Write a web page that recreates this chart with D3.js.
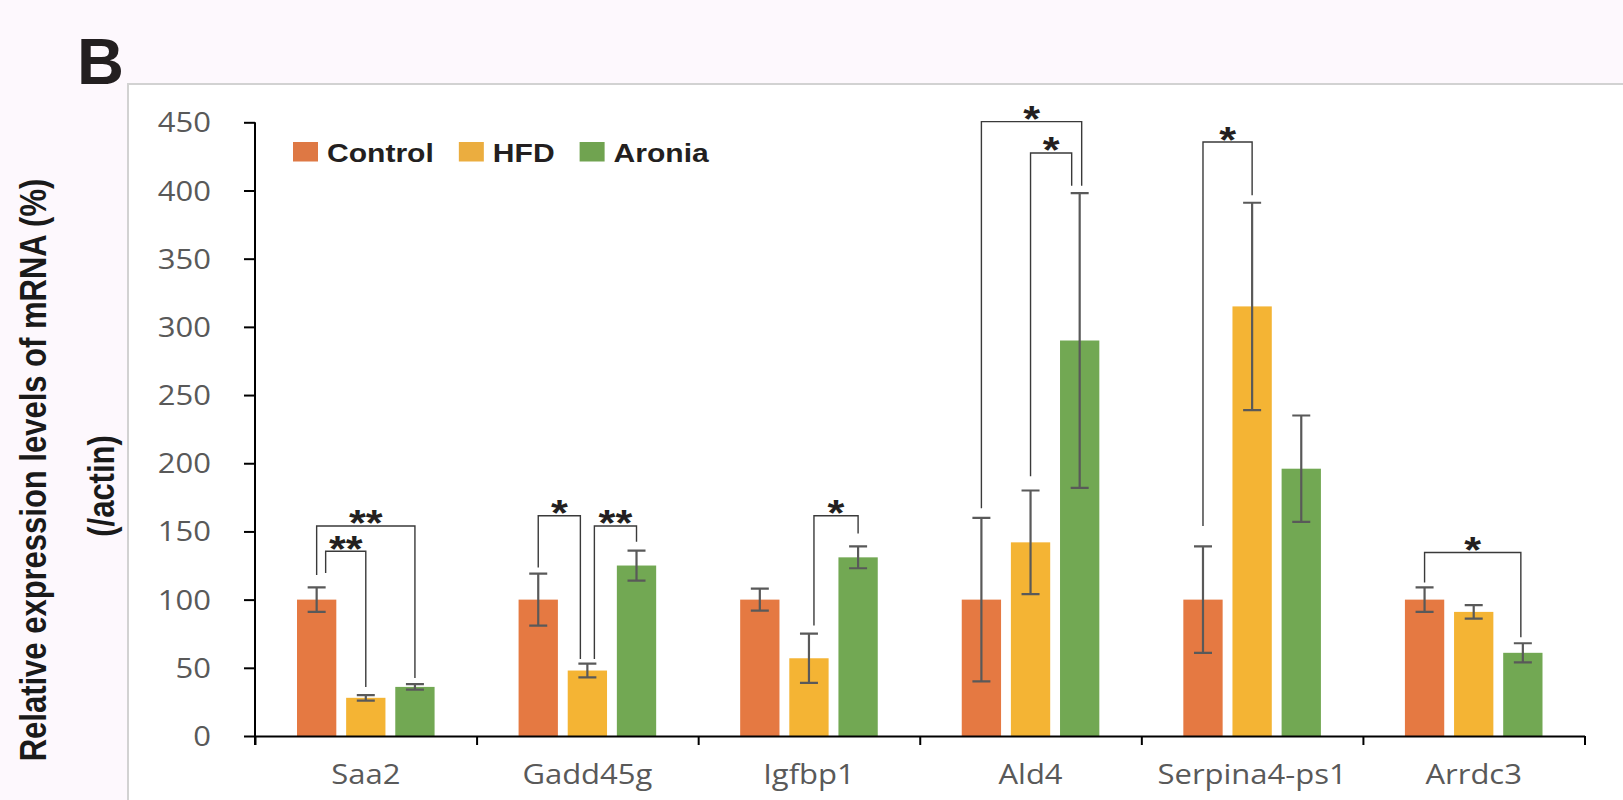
<!DOCTYPE html>
<html>
<head>
<meta charset="utf-8">
<script src="https://cdn.jsdelivr.net/npm/d3@7"></script>
<style>
  html, body { margin: 0; padding: 0; background: #fdf8fd; }
  svg { display: block; }
</style>
</head>
<body>
<svg id="chart" width="1623" height="800"></svg>
<script>
// ---- data ----
const genes = ["Saa2", "Gadd45g", "Igfbp1", "Ald4", "Serpina4-ps1", "Arrdc3"];
const groups = ["Control", "HFD", "Aronia"];

const controlMean = [100, 100, 100, 100, 100, 100];
const controlErr  = [9, 19, 8, 60, 39, 9];
const hfdMean     = [28, 48, 57, 142, 315, 91];
const hfdErr      = [2, 5, 18, 38, 76, 5];
const aroniaMean  = [36, 125, 131, 290, 196, 61];
const aroniaErr   = [2, 11, 8, 108, 39, 7];

const yTicks = [0, 50, 100, 150, 200, 250, 300, 350, 400, 450];

// significance brackets: level = height of the bar across, *End = where each leg stops
const brackets = [
  { gene: "Saa2",         from: "Control", to: "Aronia", level: 154,   fromEnd: 118,   toEnd: 42.5,  label: "**" },
  { gene: "Saa2",         from: "Control", to: "HFD",    level: 135.5, fromEnd: 119.5, toEnd: 36,    label: "**" },
  { gene: "Gadd45g",      from: "Control", to: "HFD",    level: 161.5, fromEnd: 123.5, toEnd: 56.5,  label: "*" },
  { gene: "Gadd45g",      from: "HFD",     to: "Aronia", level: 154,   fromEnd: 56.5,  toEnd: 142.5, label: "**" },
  { gene: "Igfbp1",       from: "HFD",     to: "Aronia", level: 161.5, fromEnd: 81,    toEnd: 148.5, label: "*" },
  { gene: "Ald4",         from: "Control", to: "Aronia", level: 450.5, fromEnd: 167,   toEnd: 403.5, label: "*" },
  { gene: "Ald4",         from: "HFD",     to: "Aronia", level: 427.5, fromEnd: 190.5, toEnd: 403.5, label: "*" },
  { gene: "Serpina4-ps1", from: "Control", to: "HFD",    level: 435.5, fromEnd: 154,   toEnd: 396.5, label: "*" },
  { gene: "Arrdc3",       from: "Control", to: "Aronia", level: 134.5, fromEnd: 112.5, toEnd: 72.5,  label: "*" }
];

// ---- drawing ----
const colors = { Control: "#e57942", HFD: "#f4b434", Aronia: "#72a853" };
const legendColors = { Control: "#de7844", HFD: "#ebad3f", Aronia: "#70a350" };
const means = { Control: controlMean, HFD: hfdMean, Aronia: aroniaMean };
const errs  = { Control: controlErr,  HFD: hfdErr,  Aronia: aroniaErr };

const K = 1.17; // horizontal stretch applied to all chart lettering
const sansBold = "'Liberation Sans', Arial, Helvetica, sans-serif";
const sansTick = "'Open Sans', 'Noto Sans', sans-serif";

const svg = d3.select("#chart");

function stretch(sel) {
  sel.each(function () {
    const t = d3.select(this);
    const x = +t.attr("x") || 0;
    const y = +t.attr("y") || 0;
    t.attr("x", 0).attr("y", 0)
     .attr("transform", `translate(${x},${y}) scale(${K},1)`);
  });
}

// page background and white plotting panel
svg.append("rect").attr("width", 1623).attr("height", 800).attr("fill", "#fdf8fd");
svg.append("rect")
  .attr("x", 128).attr("y", 84).attr("width", 1623).attr("height", 800)
  .attr("fill", "#ffffff").attr("stroke", "#d2d2d2").attr("stroke-width", 2);

// panel letter
svg.append("text")
  .attr("x", 77).attr("y", 84)
  .attr("font-family", sansBold).attr("font-weight", "bold")
  .attr("font-size", 65).attr("fill", "#231f20")
  .text("B");

const y = d3.scaleLinear().domain([0, 450]).range([736, 122.3]);
const x0 = d3.scaleBand().domain(genes).range([255, 1584.5]).padding(0);
const x1 = d3.scaleBand().domain(groups)
  .range([42, x0.bandwidth() - 42]).paddingInner(0.2);

const cx = (gene, grp) => x0(gene) + x1(grp) + x1.bandwidth() / 2;

// bars
const rows = [];
genes.forEach((g, i) => groups.forEach(s => rows.push({ gene: g, grp: s, mean: means[s][i], err: errs[s][i] })));

svg.append("g").selectAll("rect").data(rows).join("rect")
  .attr("x", d => x0(d.gene) + x1(d.grp))
  .attr("width", x1.bandwidth())
  .attr("y", d => y(d.mean))
  .attr("height", d => y(0) - y(d.mean))
  .attr("fill", d => colors[d.grp]);

// error bars
const capHalf = 9;
const eg = svg.append("g").attr("stroke", "#595959").attr("stroke-width", 2.2).attr("fill", "none");
eg.selectAll("path").data(rows).join("path")
  .attr("d", d => {
    const c = cx(d.gene, d.grp);
    const t = y(d.mean + d.err), b = y(d.mean - d.err);
    return `M${c},${t}V${b}M${c - capHalf},${t}H${c + capHalf}M${c - capHalf},${b}H${c + capHalf}`;
  });

// significance brackets
const legShift = [[0, 0], [9, 0], [0, -7], [7, 0], [5, 0], [0, 2], [0, -8], [0, 0], [0, -2]];
const bg = svg.append("g");
bg.selectAll("path").data(brackets).join("path")
  .attr("fill", "none").attr("stroke", "#3a3a3a").attr("stroke-width", 1.4)
  .attr("d", (d, i) => {
    const xa = cx(d.gene, d.from) + legShift[i][0];
    const xb = cx(d.gene, d.to) + legShift[i][1];
    return `M${xa},${y(d.fromEnd)}V${y(d.level)}H${xb}V${y(d.toEnd)}`;
  });
const starSize = 37;
bg.selectAll("text").data(brackets).join("text")
  .attr("x", (d, i) => (cx(d.gene, d.from) + legShift[i][0] + cx(d.gene, d.to) + legShift[i][1]) / 2)
  .attr("y", d => y(d.level) - 11 + 0.58 * starSize)
  .attr("text-anchor", "middle")
  .attr("font-family", sansBold).attr("font-weight", "bold")
  .attr("font-size", starSize).attr("fill", "#231f20")
  .text(d => d.label)
  .call(stretch);

// y axis
const yAxis = svg.append("g").attr("transform", "translate(255,0)")
  .call(d3.axisLeft(y).tickValues(yTicks).tickSize(11).tickPadding(33).tickSizeOuter(0));
yAxis.select(".domain").attr("stroke", "#000").attr("stroke-width", 2)
  .attr("d", `M0,${y(450)}V${y(0) + 9}`);
yAxis.selectAll(".tick line").attr("stroke", "#000").attr("stroke-width", 2);
yAxis.selectAll(".tick text")
  .attr("font-family", sansTick).attr("font-size", 26.5).attr("fill", "#595959")
  .attr("dy", "0.36em")
  .call(stretch);

// x axis: labels at category centres, ticks at category boundaries
const xAxis = svg.append("g").attr("transform", `translate(0,${y(0)})`)
  .call(d3.axisBottom(x0).tickSize(0).tickPadding(0).tickSizeOuter(0));
xAxis.select(".domain").attr("stroke", "#000").attr("stroke-width", 2);
xAxis.selectAll(".tick text")
  .attr("font-family", sansTick).attr("font-size", 26.5).attr("fill", "#595959")
  .attr("y", 48).attr("dy", 0)
  .call(stretch);

const edges = d3.scaleLinear().domain([0, genes.length]).range(x0.range());
const xEdge = svg.append("g").attr("transform", `translate(0,${y(0)})`)
  .call(d3.axisBottom(edges).tickValues(d3.range(genes.length + 1)).tickFormat("").tickSize(9).tickSizeOuter(0));
xEdge.select(".domain").remove();
xEdge.selectAll(".tick line").attr("stroke", "#000").attr("stroke-width", 2);

// y axis title
const yTitle = [
  { text: "Relative expression levels of mRNA (%)", x: 46, y: 470 },
  { text: "(/actin)", x: 114, y: 486 }
];
svg.append("g").selectAll("text").data(yTitle).join("text")
  .attr("transform", d => `translate(${d.x},${d.y}) scale(${K},1) rotate(-90)`)
  .attr("text-anchor", "middle")
  .attr("font-family", sansBold).attr("font-weight", "bold")
  .attr("font-size", 31).attr("fill", "#1a1a1a")
  .text(d => d.text);

// legend
const legend = svg.append("g");
let lx = 293;
groups.forEach(g => {
  legend.append("rect")
    .attr("x", lx).attr("y", 142).attr("width", 25).attr("height", 19.5)
    .attr("fill", legendColors[g]);
  const t = legend.append("text")
    .attr("x", lx + 34).attr("y", 161.5)
    .attr("font-family", sansBold).attr("font-weight", "bold")
    .attr("font-size", 25.7).attr("fill", "#231f20")
    .text(g);
  const w = t.node().getComputedTextLength() * K;
  t.call(stretch);
  lx = lx + 34 + w + 25;
});
</script>
</body>
</html>
